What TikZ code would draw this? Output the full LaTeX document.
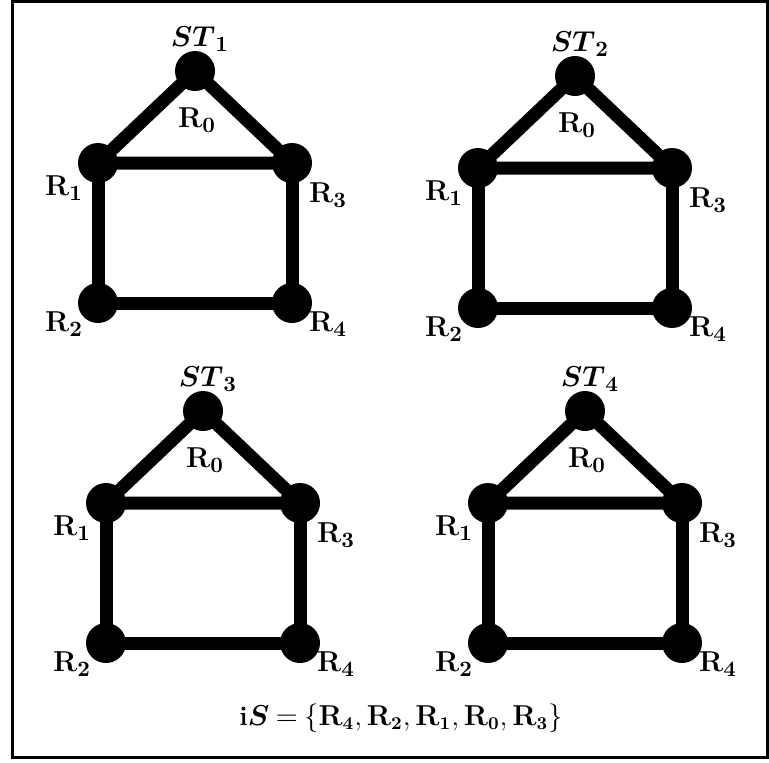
\documentclass[tikz,border=0pt]{standalone}
\usepackage{amsmath,amssymb}
\usetikzlibrary{positioning}
\newcommand{\Rlab}[1]{$\mathbf{R}_{\mathbf{#1}}$}
\tikzset{
  vtx/.style={circle,fill=black,minimum size=20pt,inner sep=0pt},
  link/.style={line width=6.5pt},
  lbl/.style={font=\fontsize{15.5}{18}\selectfont,inner sep=0pt}
}

\begin{document}
\begin{tikzpicture}[x=0.5pt,y=-0.5pt]
  \useasboundingbox (0,0) rectangle (769,762);
  % Frame
  \draw[line width=1.5pt] (12,1) rectangle (767,757);

  % Four spanning trees
  \foreach \sx/\sy/\k in {195/71/1,575/76/2,203/411/3,585/411/4}{
    \begin{scope}[shift={(\sx,\sy)}]
      \node[vtx] (st\k) at (0,0) {};
      \node[vtx] (ra\k) at (-97,92) {};
      \node[vtx] (rc\k) at (97,92) {};
      \node[vtx] (rb\k) at (-97,232) {};
      \node[vtx] (rd\k) at (97,232) {};
      \draw[link] (st\k.center) -- (ra\k.center) -- (rc\k.center) -- cycle;
      \draw[link] (ra\k.center) -- (rb\k.center) -- (rd\k.center) -- (rc\k.center);
      % Labels
      \node[lbl] (stl\k) at (5,-32) {$\boldsymbol{ST}_{\mathbf{\k}}$};
      \node[lbl] (r0l\k) at (2,49) {\Rlab{0}};
      \node[lbl] (r1l\k) at (-131,117) {\Rlab{1}};
      \node[lbl] (r3l\k) at (133,124) {\Rlab{3}};
      \node[lbl] (r2l\k) at (-131,253) {\Rlab{2}};
      \node[lbl] (r4l\k) at (133,253) {\Rlab{4}};
    \end{scope}
  }

  % Set
  \node[lbl,font=\fontsize{13.5}{16}\selectfont] (set) at (401,718)
    {$\thickmuskip=4mu\textbf{i}\boldsymbol{S}=\{\mathbf{R}_{\mathbf{4}},\mathbf{R}_{\mathbf{2}},\mathbf{R}_{\mathbf{1}},\mathbf{R}_{\mathbf{0}},\mathbf{R}_{\mathbf{3}}\}$};
\end{tikzpicture}
\end{document}
